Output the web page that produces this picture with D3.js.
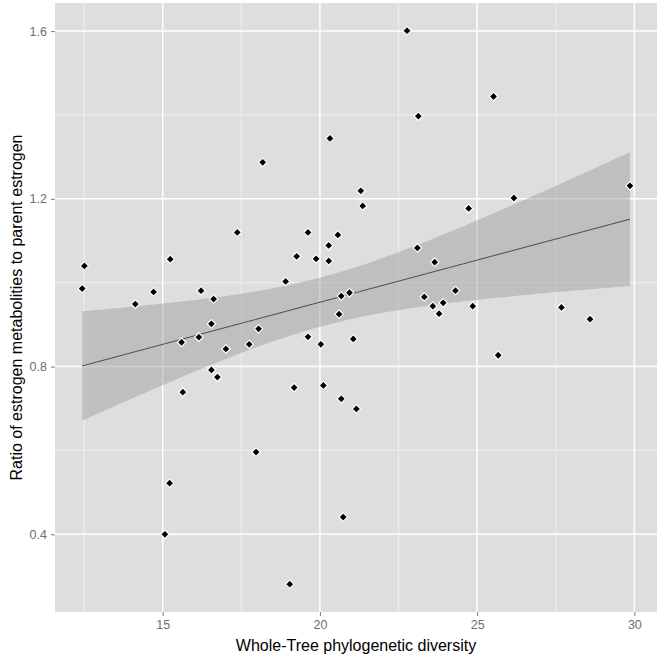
<!DOCTYPE html>
<html>
  <head>
    <meta charset="utf-8">
    <title>phylogenetic diversity vs estrogen ratio</title>
    <style>
      body { margin: 0; background: #fff; }
      svg { display: block; font-family: "Liberation Sans", Arial, sans-serif; }
    </style>
  </head>
  <body>
    <svg width="660" height="658"></svg>
    <script src="https://cdn.jsdelivr.net/npm/d3@7/dist/d3.min.js"></script>
    <script>
      // values
      var diversity = [
        12.51, 12.44, 14.13, 14.71, 15.24, 16.22, 16.62, 16.55, 15.60, 16.15,
        16.55, 16.74, 15.64, 17.37, 19.62, 20.57, 20.28, 19.26, 19.88, 20.28,
        23.10, 18.91, 20.68, 20.94, 18.05, 20.61, 17.01, 17.75, 19.62, 20.03,
        21.06, 19.18, 20.11, 20.68, 21.16, 23.65, 24.31, 23.32, 23.59, 23.92,
        23.79, 24.86, 27.68, 28.59, 25.67, 22.77, 23.13, 20.32, 18.18, 21.30,
        21.36, 25.52, 24.73, 26.17, 29.86, 15.22, 15.07, 17.97, 19.04, 20.74
      ];
      var ratio = [
        1.040, 0.986, 0.949, 0.978, 1.056, 0.981, 0.961, 0.902, 0.858, 0.870,
        0.792, 0.775, 0.739, 1.120, 1.120, 1.114, 1.089, 1.063, 1.057, 1.052,
        1.083, 1.003, 0.968, 0.976, 0.890, 0.925, 0.842, 0.853, 0.871, 0.853,
        0.866, 0.750, 0.755, 0.723, 0.699, 1.049, 0.981, 0.966, 0.944, 0.952,
        0.926, 0.944, 0.941, 0.913, 0.827, 1.601, 1.397, 1.344, 1.287, 1.219,
        1.183, 1.444, 1.177, 1.202, 1.231, 0.522, 0.400, 0.596, 0.281, 0.441
      ];
      var xTicks = [15, 20, 25, 30];
      var yTicks = [0.4, 0.8, 1.2, 1.6];
      var xMinor = [12.5, 17.5, 22.5, 27.5];
      var yMinor = [0.6, 1.0, 1.4];

      var svg = d3.select("svg");
      var panel = {left: 55, right: 657, top: 3, bottom: 612};

      var x = d3.scaleLinear().domain([11.575, 30.72]).range([panel.left, panel.right]);
      var y = d3.scaleLinear().domain([0.2147, 1.667]).range([panel.bottom, panel.top]);

      // panel + grid
      svg.append("rect")
        .attr("x", panel.left).attr("y", panel.top)
        .attr("width", panel.right - panel.left).attr("height", panel.bottom - panel.top)
        .attr("fill", "#dedede");

      var grid = svg.append("g");
      grid.selectAll(".vmin").data(xMinor).enter().append("line")
        .attr("x1", x).attr("x2", x).attr("y1", panel.top).attr("y2", panel.bottom)
        .attr("stroke", "#efefef").attr("stroke-width", 1);
      grid.selectAll(".hmin").data(yMinor).enter().append("line")
        .attr("y1", y).attr("y2", y).attr("x1", panel.left).attr("x2", panel.right)
        .attr("stroke", "#efefef").attr("stroke-width", 1);
      grid.selectAll(".vmaj").data(xTicks).enter().append("line")
        .attr("x1", x).attr("x2", x).attr("y1", panel.top).attr("y2", panel.bottom)
        .attr("stroke", "#fff").attr("stroke-width", 1.5);
      grid.selectAll(".hmaj").data(yTicks).enter().append("line")
        .attr("y1", y).attr("y2", y).attr("x1", panel.left).attr("x2", panel.right)
        .attr("stroke", "#fff").attr("stroke-width", 1.5);

      // linear fit with 95% band (like geom_smooth(method = "lm"))
      var pts = diversity.map(function(d, i){ return {x: d, y: ratio[i]}; });
      var n = pts.length;
      var mx = d3.mean(pts, function(d){ return d.x; });
      var my = d3.mean(pts, function(d){ return d.y; });
      var sxx = d3.sum(pts, function(d){ return (d.x - mx) * (d.x - mx); });
      var sxy = d3.sum(pts, function(d){ return (d.x - mx) * (d.y - my); });
      var b = sxy / sxx, a = my - b * mx;
      var sse = d3.sum(pts, function(d){ var r = d.y - (a + b * d.x); return r * r; });
      var s = Math.sqrt(sse / (n - 2));
      var tq = 2.0017; // t(0.975, 58)
      var xlo = d3.min(diversity), xhi = d3.max(diversity);
      var fit = d3.range(80).map(function(i){
        var xv = xlo + (xhi - xlo) * i / 79;
        var se = s * Math.sqrt(1 / n + (xv - mx) * (xv - mx) / sxx);
        var yv = a + b * xv;
        return {x: xv, y: yv, lo: yv - tq * se, hi: yv + tq * se};
      });

      svg.append("path").datum(fit)
        .attr("d", d3.area().x(function(d){ return x(d.x); })
          .y0(function(d){ return y(d.lo); }).y1(function(d){ return y(d.hi); }))
        .attr("fill", "#999").attr("fill-opacity", 0.45);
      svg.append("path").datum(fit)
        .attr("d", d3.line().x(function(d){ return x(d.x); }).y(function(d){ return y(d.y); }))
        .attr("fill", "none").attr("stroke", "#4a4a4a").attr("stroke-width", 1);

      // points
      svg.append("g").selectAll("path").data(pts).enter().append("path")
        .attr("d", d3.symbol().type(d3.symbolSquare).size(36))
        .attr("transform", function(d){ return "translate(" + x(d.x) + "," + y(d.y) + ") rotate(45)"; })
        .attr("fill", "#000").attr("stroke", "#fff").attr("stroke-width", 1.2)
        .attr("stroke-linejoin", "round");

      // axes
      var xAxis = svg.append("g").attr("transform", "translate(0," + panel.bottom + ")")
        .call(d3.axisBottom(x).tickValues(xTicks).tickSize(4).tickPadding(4).tickFormat(d3.format("d")));
      var yAxis = svg.append("g").attr("transform", "translate(" + panel.left + ",0)")
        .call(d3.axisLeft(y).tickValues(yTicks).tickSize(4).tickPadding(4).tickFormat(d3.format(".1f")));
      [xAxis, yAxis].forEach(function(ax){
        ax.select(".domain").remove();
        ax.selectAll(".tick line").attr("stroke", "#7a7a7a");
        ax.selectAll(".tick text").attr("fill", "#6e6e6e").style("font-size", "12.5px")
          .style("font-family", "'Liberation Sans', Arial, sans-serif");
      });

      svg.append("text")
        .attr("x", (panel.left + panel.right) / 2).attr("y", 651)
        .attr("text-anchor", "middle").style("font-size", "16px").attr("fill", "#000")
        .text("Whole-Tree phylogenetic diversity");
      svg.append("text")
        .attr("transform", "translate(22," + (panel.top + panel.bottom) / 2 + ") rotate(-90)")
        .attr("text-anchor", "middle").style("font-size", "16px").attr("fill", "#000")
        .text("Ratio of estrogen metabolities to parent estrogen");
    </script>
  </body>
</html>
